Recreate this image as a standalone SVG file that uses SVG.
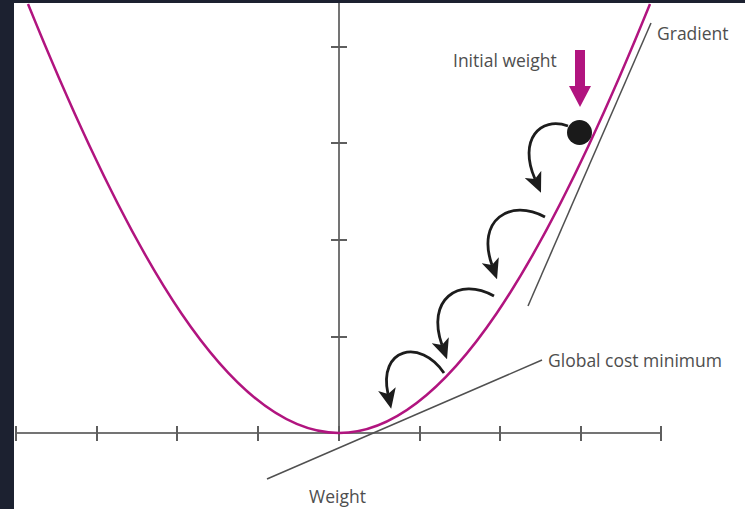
<svg xmlns="http://www.w3.org/2000/svg" width="745" height="509" viewBox="0 0 745 509">
<style>
.axis{stroke:#747474;stroke-width:2;fill:none}
.tick{stroke:#5e5e5e;stroke-width:2;fill:none}
.curve{stroke:#b1147f;stroke-width:2.5;fill:none}
.guide{stroke:#505050;stroke-width:1.5;fill:none}
.hop{stroke:#1c1c1c;stroke-width:2.8;fill:none;marker-end:url(#head)}
.lbl{font-family:"Open Sans","Noto Sans",sans-serif;font-size:17.5px;fill:#4e4e4e}
</style>
<defs>
<marker id="head" viewBox="0 0 20 18" refX="5" refY="9" markerWidth="20" markerHeight="18" markerUnits="userSpaceOnUse" orient="auto">
<path d="M0,0 L20,9 L0,18 L5,9 Z" fill="#1c1c1c"/>
</marker>
</defs>
<rect x="0" y="0" width="745" height="509" fill="#ffffff"/>
<rect x="0" y="0" width="14" height="509" fill="#1c2130"/>
<rect x="0" y="0" width="745" height="3" fill="#1c2130"/>

<g id="axes">
<line class="axis" x1="16" y1="433" x2="661" y2="433"/>
<line class="axis" x1="339" y1="3" x2="339" y2="441"/>
<path class="tick" d="M16,426V441M97,426V441M177,426V441M258,426V441M339,426V441M420,426V441M500,426V441M581,426V441M661,426V441"/>
<path class="tick" d="M331,47H347M331,143H347M331,240H347M331,337H347"/>
</g>

<g id="cost-curve">
<path class="curve" d="M28,4 C131,258 231,433 339,433 C447,433 547,258 650,4"/>
</g>

<g id="gradient">
<line class="guide" x1="651" y1="23" x2="528" y2="306"/>
<text class="lbl" x="657" y="40">Gradient</text>
</g>

<g id="global-minimum">
<line class="guide" x1="267" y1="479" x2="542" y2="360"/>
<text class="lbl" x="548" y="367">Global cost minimum</text>
</g>

<g id="initial-weight">
<text class="lbl" x="453" y="67">Initial weight</text>
<polygon points="575,50 585,50 585,86 591,86 580,107 569,86 575,86" fill="#b1147f"/>
<circle cx="579.5" cy="132.5" r="12.5" fill="#1a1a1a"/>
</g>

<g id="weight-label">
<text class="lbl" x="309" y="503">Weight</text>
</g>

<g id="connectors">
<path class="hop" d="M568,126 C540,116 518,140 535,179"/>
<path class="hop" d="M545,217 C510,198 476,220 492,265"/>
<path class="hop" d="M494,296 C458,276 426,300 442,345"/>
<path class="hop" d="M444,373 C420,338 378,348 388,394"/>
</g>
</svg>
